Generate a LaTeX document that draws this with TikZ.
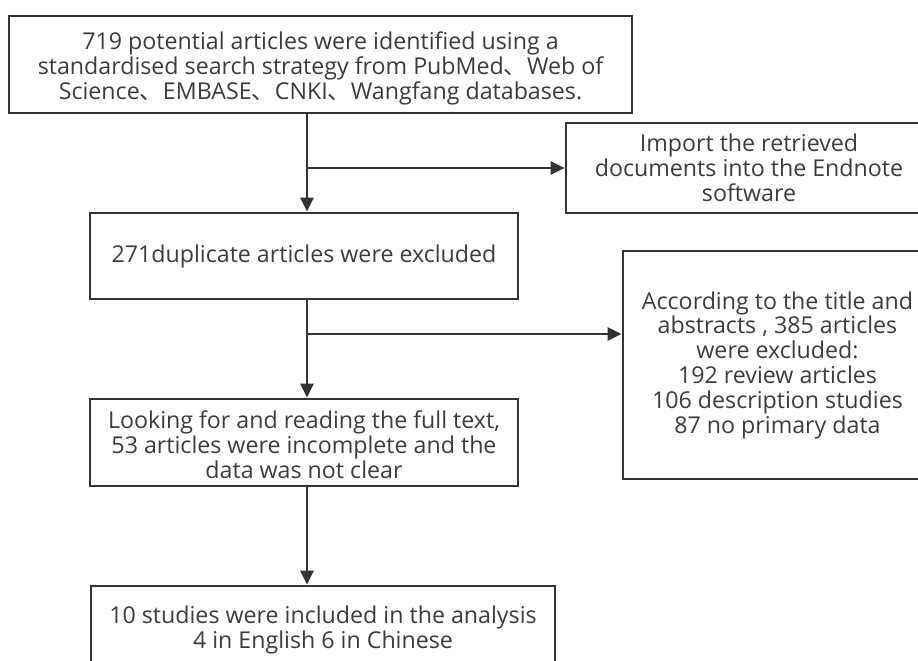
\documentclass[tikz,border=0pt]{standalone}
\usepackage{fontspec}
\setmainfont{Open Sans}
\newfontfamily\cjkfont{Noto Sans CJK SC}
\newcommand{\dun}{{\cjkfont 、}}
\usetikzlibrary{arrows.meta}
\definecolor{ln}{HTML}{333333}
\definecolor{tx}{HTML}{3C3C3C}
\tikzset{
  box/.style={draw=ln, line width=2.8pt, rectangle, align=center, inner sep=0pt,
    text=tx, font=\fontsize{23.2}{24.8}\selectfont},
  arr/.style={draw=ln, line width=2.8pt, -{Triangle[length=14pt,width=13pt]}},
}
\begin{document}
\begin{tikzpicture}[x=1pt,y=-1pt]
\useasboundingbox (0,0) rectangle (918,661);
\clip (0,0) rectangle (918,661);
\node[box, minimum width=623pt, minimum height=97pt] (b1) at (320.5,64.5)
  {\rule{0pt}{26pt}719 potential articles were identified using a\\standardised search strategy from PubMed\dun Web of\\Science\dun EMBASE\dun CNKI\dun Wangfang databases.};
\node[box, minimum width=366pt, minimum height=90pt] (imp) at (749,168)
  {Import the retrieved\\documents into the Endnote\\software};
\node[box, minimum width=428pt, minimum height=86pt] (dup) at (304,256)
  {271duplicate articles were excluded};
\node[box, minimum width=309pt, minimum height=228pt] (excl) at (777.5,365)
  {According to the title and\\abstracts , 385 articles\\were excluded:\\192 review articles\\106 description studies\\87 no primary data};
\node[box, minimum width=428pt, minimum height=87pt] (look) at (304,442.5)
  {\rule{0pt}{22pt}Looking for and reading the full text,\\53 articles were incomplete and the\\data was not clear};
\node[box, minimum width=464pt, minimum height=88pt] (fin) at (323,630)
  {10 studies were included in the analysis\\4 in English 6 in Chinese};
\coordinate (m1) at (307,168);
\coordinate (m2) at (307,334);
\draw[arr] (b1.south -| m1) -- (dup.north -| m1);
\draw[arr] (m1) -- (imp.west |- m1);
\draw[arr] (dup.south -| m1) -- (look.north -| m1);
\draw[arr] (m2) -- (excl.west |- m2);
\draw[arr] (look.south -| m1) -- (fin.north -| m1);
\end{tikzpicture}
\end{document}
